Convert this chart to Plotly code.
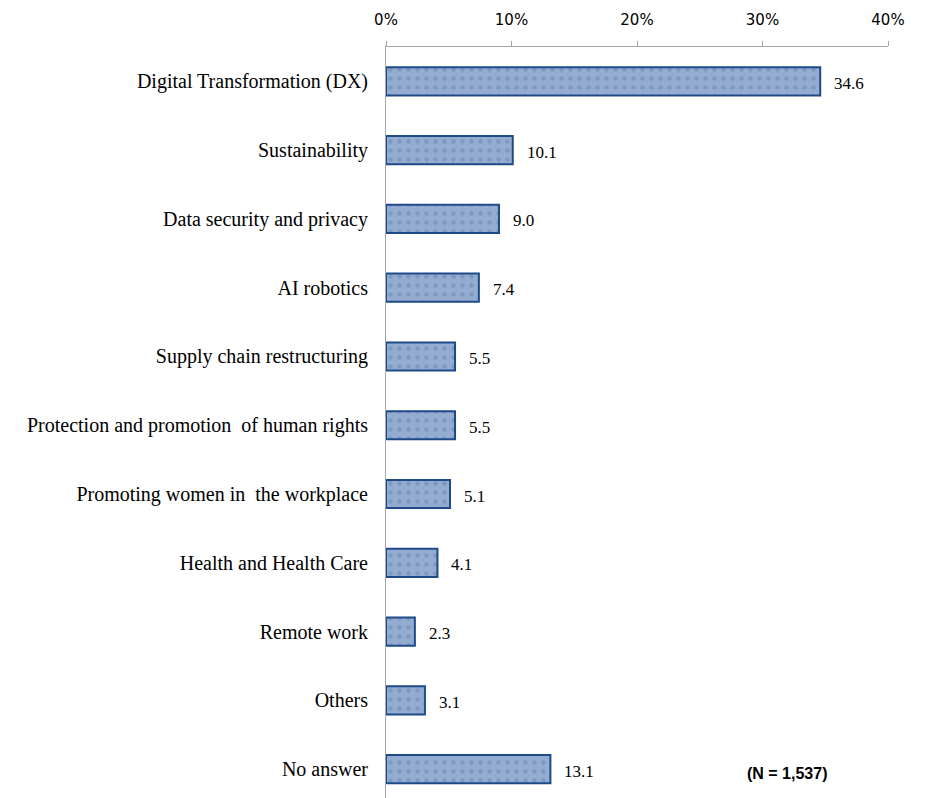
import plotly.graph_objects as go

categories = [
    "Digital Transformation (DX)",
    "Sustainability",
    "Data security and privacy",
    "AI robotics",
    "Supply chain restructuring",
    "Protection and promotion  of human rights",
    "Promoting women in  the workplace",
    "Health and Health Care",
    "Remote work",
    "Others",
    "No answer",
]
values = [34.6, 10.1, 9.0, 7.4, 5.5, 5.5, 5.1, 4.1, 2.3, 3.1, 13.1]
x_ticks = [0, 10, 20, 30, 40]
x_tick_labels = ["0%", "10%", "20%", "30%", "40%"]
sample_note = "(N = 1,537)"

fig = go.Figure()
fig.add_trace(go.Bar(
    x=values,
    y=categories,
    orientation="h",
    width=0.41,
    marker=dict(
        color="#8FA9CD",
        line=dict(color="#1F4A8A", width=2),
        pattern=dict(shape=".", fgcolor="#6A86B2", bgcolor="#93ACD0",
                     size=9, solidity=0.2, fillmode="overlay"),
    ),
    hoverinfo="skip",
))

# value labels to the right of each bar
for cat, v in zip(categories, values):
    fig.add_annotation(
        x=v, y=cat, text=f"{v:.1f}", showarrow=False,
        xanchor="left", xshift=12, yshift=-2,
        font=dict(family="Liberation Serif", size=17, color="#000000"),
    )

fig.add_annotation(
    xref="paper", yref="paper", x=0.799, y=0.032,
    text=f"<b>{sample_note}</b>", showarrow=False,
    xanchor="center", yanchor="middle",
    font=dict(family="Liberation Sans", size=16, color="#000000"),
)

fig.update_layout(
    width=928, height=798,
    margin=dict(l=386, r=40, t=47, b=0),
    paper_bgcolor="white", plot_bgcolor="white",
    showlegend=False,
    xaxis=dict(
        side="top", range=[0, 40], tickvals=x_ticks, ticktext=x_tick_labels,
        showgrid=False, zeroline=False,
        showline=True, linecolor="#A6A6A6", linewidth=1,
        ticks="outside", ticklen=5, tickcolor="#A6A6A6",
        tickfont=dict(family="DejaVu Sans", size=15, color="#000000"),
        ticklabelstandoff=10,
    ),
    yaxis=dict(
        range=[10.42, -0.5], showgrid=False, zeroline=False,
        showline=True, linecolor="#A6A6A6", linewidth=1,
        ticks="", ticklabelstandoff=13,
        tickfont=dict(family="Liberation Serif", size=20, color="#000000"),
    ),
)

fig.write_html("out.html")
